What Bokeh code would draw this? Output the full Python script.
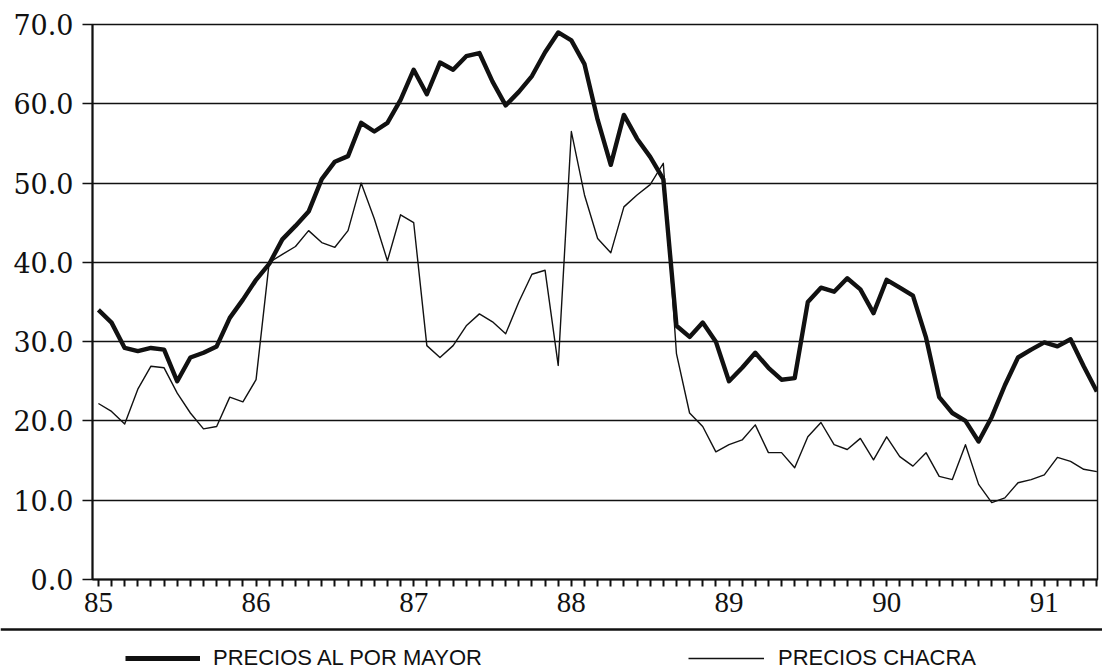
from bokeh.plotting import figure
from bokeh.models import (Range1d, FixedTicker, NumeralTickFormatter, Span,
                          Legend, LegendItem, ColumnDataSource)
from bokeh.layouts import column
from bokeh.embed import file_html
from bokeh.resources import INLINE

# ---- data (monthly, Jan 1985 .. May 1991) ----
months = list(range(77))
mayor = [34.0, 32.4, 29.2, 28.8, 29.2, 29.0, 25.0, 28.0, 28.6, 29.4, 33.0, 35.3, 37.8,
         39.8, 42.9, 44.6, 46.4, 50.5, 52.7, 53.4, 57.6, 56.5, 57.6, 60.5, 64.3,
         61.2, 65.2, 64.3, 66.0, 66.4, 62.8, 59.8, 61.5, 63.5, 66.5, 69.0, 68.0,
         65.0, 58.0, 52.3, 58.6, 55.6, 53.3, 50.5, 32.0, 30.6, 32.4, 30.0, 25.0,
         26.7, 28.6, 26.7, 25.2, 25.4, 35.0, 36.8, 36.3, 38.0, 36.6, 33.6, 37.8,
         36.8, 35.8, 30.5, 23.0, 21.0, 20.0, 17.4, 20.5, 24.5, 28.0, 29.0, 29.9,
         29.4, 30.3, 26.9, 23.7]
chacra = [22.2, 21.2, 19.6, 24.0, 26.9, 26.7, 23.5, 21.0, 19.0, 19.3, 23.0, 22.4, 25.2,
          40.0, 41.0, 42.0, 44.0, 42.5, 41.9, 44.0, 50.0, 45.5, 40.2, 46.0, 45.0,
          29.5, 28.0, 29.5, 32.0, 33.5, 32.5, 31.0, 35.0, 38.5, 39.0, 27.0, 56.5,
          48.5, 43.0, 41.2, 47.0, 48.5, 49.8, 52.5, 28.5, 21.0, 19.3, 16.1, 17.0,
          17.6, 19.5, 16.0, 16.0, 14.1, 18.0, 19.8, 17.0, 16.4, 17.8, 15.1, 18.0,
          15.5, 14.3, 16.0, 13.0, 12.6, 17.0, 12.0, 9.7, 10.3, 12.2, 12.6, 13.2,
          15.4, 14.9, 13.9, 13.6]
year_labels = ["85", "86", "87", "88", "89", "90", "91"]
year_ticks = [0, 12, 24, 36, 48, 60, 72]
y_ticks = [0, 10, 20, 30, 40, 50, 60, 70]
series_names = ["PRECIOS AL POR MAYOR", "PRECIOS CHACRA"]

INK = "#111111"
W = 1102

src = ColumnDataSource(dict(m=months, mayor=mayor, chacra=chacra))

p = figure(width=W, height=624, output_backend="svg", toolbar_location=None,
           x_range=Range1d(-0.45, 76.05), y_range=Range1d(0, 70),
           min_border_left=92, min_border_right=5, min_border_top=24,
           min_border_bottom=45)
p.background_fill_color = "white"
p.border_fill_color = "white"
p.outline_line_color = INK
p.outline_line_width = 1.5

p.line(x="m", y="mayor", source=src, line_width=4.4, line_color=INK, line_join="round")
p.line(x="m", y="chacra", source=src, line_width=1.4, line_color=INK, line_join="round")

# x axis: a tick every month, labels at each January
labels = {m: "" for m in months}
labels.update({t: lab for t, lab in zip(year_ticks, year_labels)})
p.xaxis.ticker = FixedTicker(ticks=months)
p.xaxis.major_label_overrides = labels
p.xaxis.axis_line_color = INK
p.xaxis.axis_line_width = 2
p.xaxis.major_tick_line_color = INK
p.xaxis.major_tick_line_width = 2
p.xaxis.major_tick_in = 0
p.xaxis.major_tick_out = 7
p.xaxis.minor_tick_line_color = None
p.xaxis.major_label_standoff = 6
p.xaxis.major_label_text_font = "Liberation Serif"
p.xaxis.major_label_text_font_size = "29px"
p.xaxis.major_label_text_color = INK

# y axis
p.yaxis.ticker = FixedTicker(ticks=y_ticks)
p.yaxis.formatter = NumeralTickFormatter(format="0.0")
p.yaxis.axis_line_color = INK
p.yaxis.axis_line_width = 2
p.yaxis.major_tick_line_color = INK
p.yaxis.major_tick_line_width = 1.5
p.yaxis.major_tick_in = 0
p.yaxis.major_tick_out = 10
p.yaxis.minor_tick_line_color = None
p.yaxis.major_label_standoff = 9
p.yaxis.major_label_text_font = "DejaVu Serif"
p.yaxis.major_label_text_font_size = "27px"
p.yaxis.major_label_text_color = INK

p.xgrid.grid_line_color = None
p.ygrid.grid_line_color = INK
p.ygrid.grid_line_width = 1.6

# ---- legend strip (ranges chosen so the series themselves fall outside it) ----
p2 = figure(width=W, height=48, output_backend="svg", toolbar_location=None,
            x_range=Range1d(1000, 1000 + W), y_range=Range1d(100, 148),
            x_axis_type=None, y_axis_type=None, min_border=0)
p2.frame_align = False
p2.outline_line_color = None
p2.background_fill_color = "white"
p2.border_fill_color = "white"
p2.xgrid.grid_line_color = None
p2.ygrid.grid_line_color = None
p2.add_layout(Span(location=143, dimension="width", line_color=INK, line_width=2.5))

r1 = p2.line(x="m", y="mayor", source=src, line_width=5, line_color=INK)
r2 = p2.line(x="m", y="chacra", source=src, line_width=1.4, line_color=INK)

def make_legend(label, r, x, y, gw, standoff):
    return Legend(items=[LegendItem(label=label, renderers=[r])], location=(x, y),
                  orientation="horizontal", glyph_width=gw, glyph_height=14,
                  label_standoff=standoff, padding=0, margin=0,
                  border_line_color=None, background_fill_alpha=0,
                  label_text_font="Liberation Sans", label_text_font_size="22px",
                  label_text_color=INK)

p2.add_layout(make_legend(series_names[0], r1, 125, 1, 75, 13))
p2.add_layout(make_legend(series_names[1], r2, 688, 1, 76, 14))

layout = column(p, p2, spacing=0)
open("out.html", "w").write(file_html(layout, INLINE))
